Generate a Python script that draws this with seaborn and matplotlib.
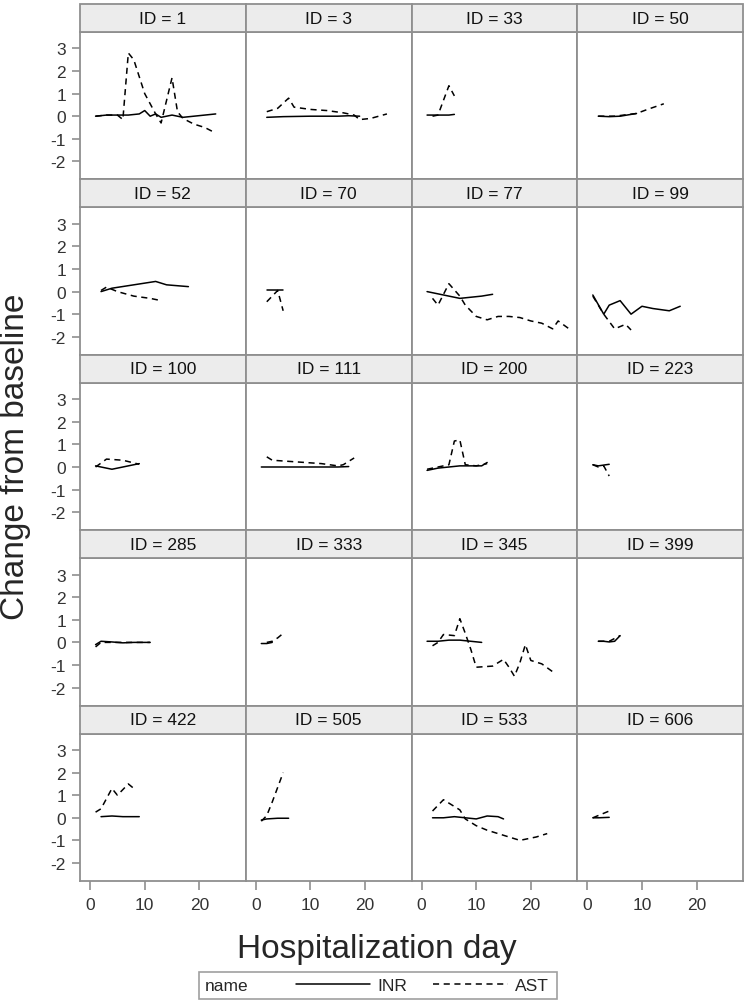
import matplotlib
matplotlib.use("Agg")
import matplotlib.pyplot as plt
from matplotlib.patches import Rectangle
from matplotlib.lines import Line2D
import seaborn as sns
import pandas as pd

# patient IDs, in panel order
ids = [1, 3, 33, 50, 52, 70, 77, 99, 100, 111, 200, 223, 285, 333, 345, 399, 422, 505, 533, 606]

# INR: hospitalization day / change from baseline
inr_day = {
    1: [1, 3, 5, 7, 9, 10, 11, 12, 13, 15, 17, 19, 21, 23],
    3: [2, 5, 10, 15, 17, 19],
    33: [1, 2, 3, 4, 5, 6],
    50: [2, 4, 6, 8, 9],
    52: [2, 4, 8, 12, 14, 18],
    70: [2, 3, 4, 5],
    77: [1, 3, 5, 7, 9, 11, 13],
    99: [1, 3, 4, 6, 8, 10, 12, 15, 17],
    100: [1, 2, 4, 6, 9],
    111: [1, 5, 10, 15, 17],
    200: [1, 3, 5, 7, 9, 11, 12],
    223: [1, 2, 4],
    285: [1, 2, 4, 6, 8, 11],
    333: [1, 2, 3],
    345: [1, 3, 5, 7, 9, 11],
    399: [2, 3, 4, 5, 6],
    422: [2, 4, 6, 9],
    505: [1, 2, 4, 6],
    533: [2, 4, 6, 8, 10, 12, 14, 15],
    606: [1, 2, 4],
}
inr_val = {
    1: [0, 0.05, 0.05, 0.05, 0.1, 0.25, 0, 0.1, -0.05, 0.05, -0.05, 0, 0.05, 0.1],
    3: [-0.05, -0.02, 0, 0, 0.02, 0],
    33: [0.05, 0.05, 0.05, 0.05, 0.05, 0.08],
    50: [0, -0.02, 0, 0.08, 0.12],
    52: [0, 0.15, 0.3, 0.45, 0.3, 0.22],
    70: [0.08, 0.08, 0.08, 0.08],
    77: [0, -0.1, -0.2, -0.3, -0.25, -0.2, -0.12],
    99: [-0.15, -1.0, -0.6, -0.4, -1.0, -0.65, -0.75, -0.85, -0.65],
    100: [0.05, 0, -0.1, 0, 0.15],
    111: [0, 0, 0, 0, 0.02],
    200: [-0.15, -0.05, 0, 0.05, 0.05, 0.05, 0.2],
    223: [0.1, 0.05, 0.12],
    285: [-0.1, 0.05, 0.02, -0.02, 0, 0],
    333: [-0.05, -0.05, 0],
    345: [0.05, 0.05, 0.1, 0.1, 0.05, 0],
    399: [0.05, 0.05, 0.02, 0.05, 0.3],
    422: [0.05, 0.08, 0.05, 0.05],
    505: [-0.1, -0.05, -0.02, -0.02],
    533: [0, 0, 0.05, 0, -0.05, 0.08, 0.05, -0.05],
    606: [0, 0, 0.02],
}

# AST
ast_day = {
    1: [1, 3, 5, 6, 7, 8, 10, 12, 13, 15, 16, 17, 19, 21, 23],
    3: [2, 4, 6, 7, 10, 13, 16, 18, 19, 21, 24],
    33: [2, 3, 4, 5, 6],
    50: [2, 5, 9, 11, 14],
    52: [2, 3, 5, 8, 11, 13],
    70: [2, 4, 5],
    77: [2, 3, 5, 7, 8, 10, 12, 14, 16, 18, 20, 22, 24, 25, 27],
    99: [1, 3, 5, 7, 8],
    100: [1, 3, 6, 9],
    111: [2, 3, 6, 9, 12, 15, 16, 18],
    200: [1, 5, 6, 7, 8, 10, 12],
    223: [1, 2, 3, 4],
    285: [1, 2, 5, 8, 11],
    333: [2, 3, 4, 5],
    345: [2, 3, 4, 6, 7, 8, 9, 10, 13, 15, 16, 17, 18, 19, 20, 22, 24],
    399: [2, 4, 6],
    422: [1, 2, 4, 5, 7, 8],
    505: [1, 2, 3, 5],
    533: [2, 4, 5, 7, 8, 10, 12, 14, 16, 18, 21, 23],
    606: [1, 2, 3, 4],
}
ast_val = {
    1: [0, 0.05, 0.05, -0.15, 2.8, 2.5, 1.0, 0.1, -0.3, 1.7, 0.2, -0.1, -0.35, -0.5, -0.75],
    3: [0.2, 0.35, 0.8, 0.4, 0.3, 0.25, 0.15, 0.05, -0.15, -0.1, 0.1],
    33: [0, 0.05, 0.7, 1.35, 0.9],
    50: [0, 0, 0.12, 0.3, 0.55],
    52: [0.05, 0.2, 0, -0.2, -0.3, -0.4],
    70: [-0.45, 0.05, -0.85],
    77: [-0.3, -0.6, 0.35, -0.2, -0.6, -1.1, -1.25, -1.1, -1.1, -1.15, -1.3, -1.4, -1.65, -1.3, -1.65],
    99: [-0.2, -1.0, -1.65, -1.45, -1.7],
    100: [0, 0.35, 0.3, 0.12],
    111: [0.45, 0.3, 0.25, 0.2, 0.15, 0.05, 0.1, 0.4],
    200: [-0.1, 0.1, 1.15, 1.2, 0.1, 0.05, 0.15],
    223: [0.1, 0, 0.05, -0.4],
    285: [-0.2, 0, 0, 0, 0],
    333: [0, 0.05, 0.2, 0.4],
    345: [-0.15, 0, 0.35, 0.3, 1.05, 0.4, -0.3, -1.1, -1.05, -0.75, -1.1, -1.5, -0.9, -0.1, -0.8, -0.95, -1.3],
    399: [0.05, 0.05, 0.3],
    422: [0.25, 0.4, 1.3, 1.0, 1.5, 1.3],
    505: [-0.15, 0.1, 0.7, 2.0],
    533: [0.3, 0.8, 0.65, 0.35, -0.05, -0.35, -0.55, -0.7, -0.85, -1.0, -0.85, -0.7],
    606: [0, 0.1, 0.2, 0.3],
}

names = ["INR", "AST"]
y_ticks = [-2, -1, 0, 1, 2, 3]
x_ticks = [0, 10, 20]

rows = []
for pid in ids:
    for d, v in zip(inr_day[pid], inr_val[pid]):
        rows.append({"ID": pid, "day": d, "change": v, "name": "INR"})
    for d, v in zip(ast_day[pid], ast_val[pid]):
        rows.append({"ID": pid, "day": d, "change": v, "name": "AST"})
df = pd.DataFrame(rows)

sns.set_style("ticks")
plt.rcParams["font.family"] = ["Liberation Sans", "DejaVu Sans"]
plt.rcParams["axes.unicode_minus"] = False  # SAS uses a plain hyphen

edge = "#8f8f8f"
g = sns.relplot(data=df, x="day", y="change", col="ID", col_wrap=4, col_order=ids,
                style="name", style_order=names, dashes={"INR": "", "AST": (4, 3)},
                color="black", kind="line", errorbar=None, legend=False,
                linewidth=1.1, height=2, aspect=1)
fig = g.figure
fig.set_size_inches(7.47, 10.03)
panel_h = 147.4
strip_h = 28 / panel_h
fig.subplots_adjust(left=80 / 747, right=743 / 747, top=1 - 33 / 1003,
                    bottom=1 - 882 / 1003, wspace=0, hspace=strip_h)

g.set(xlim=(-1.85, 28.5), ylim=(-2.8, 3.73), xticks=x_ticks, yticks=y_ticks)
g.set_axis_labels("", "")

for i, (pid, ax) in enumerate(zip(ids, g.axes.flat)):
    ax.set_title("")
    for s in ax.spines.values():
        s.set_visible(True)
        s.set_color(edge)
        s.set_linewidth(1.3)
    # grey strip header above each panel
    ax.add_patch(Rectangle((0, 1), 1, strip_h, transform=ax.transAxes, clip_on=False,
                           facecolor="#ececec", edgecolor=edge, linewidth=1.3, zorder=3))
    ax.text(0.5, 1 + strip_h / 2, f"ID = {pid}", transform=ax.transAxes,
            ha="center", va="center", fontsize=12.5, color="#111111", zorder=4)
    col, row = i % 4, i // 4
    ax.tick_params(axis="both", direction="out", color=edge, width=1.2,
                   labelsize=12.5, labelcolor="#333333")
    ax.tick_params(axis="x", length=6.5 if row == 4 else 0, pad=5)
    ax.tick_params(axis="y", length=6 if col == 0 else 0, pad=4)

fig.text(377 / 747, 1 - 950 / 1003, "Hospitalization day", ha="center", va="center", fontsize=24)
fig.text(16 / 747, 1 - 457 / 1003, "Change from baseline", ha="center", va="center",
         rotation=90, fontsize=24)

# legend box like SAS: "name" label then the two line styles
fig.patches.append(Rectangle((199 / 747, 1 - 1000 / 1003), 358 / 747, 27 / 1003,
                             transform=fig.transFigure, facecolor="white",
                             edgecolor="#a0a0a0", linewidth=1.2))
fig.text(205 / 747, 1 - 986.5 / 1003, "name", ha="left", va="center", fontsize=12.5)
handles = [Line2D([], [], color="black", linewidth=1.1),
           Line2D([], [], color="black", linewidth=1.1, dashes=(4, 3))]
fig.legend(handles, names, loc="center", bbox_to_anchor=(422 / 747, 1 - 986.5 / 1003),
           ncol=2, frameon=False, fontsize=12.5, handlelength=4.3, handletextpad=0.4,
           columnspacing=1.5, borderpad=0, borderaxespad=0)

fig.savefig("out.png", dpi=100)
